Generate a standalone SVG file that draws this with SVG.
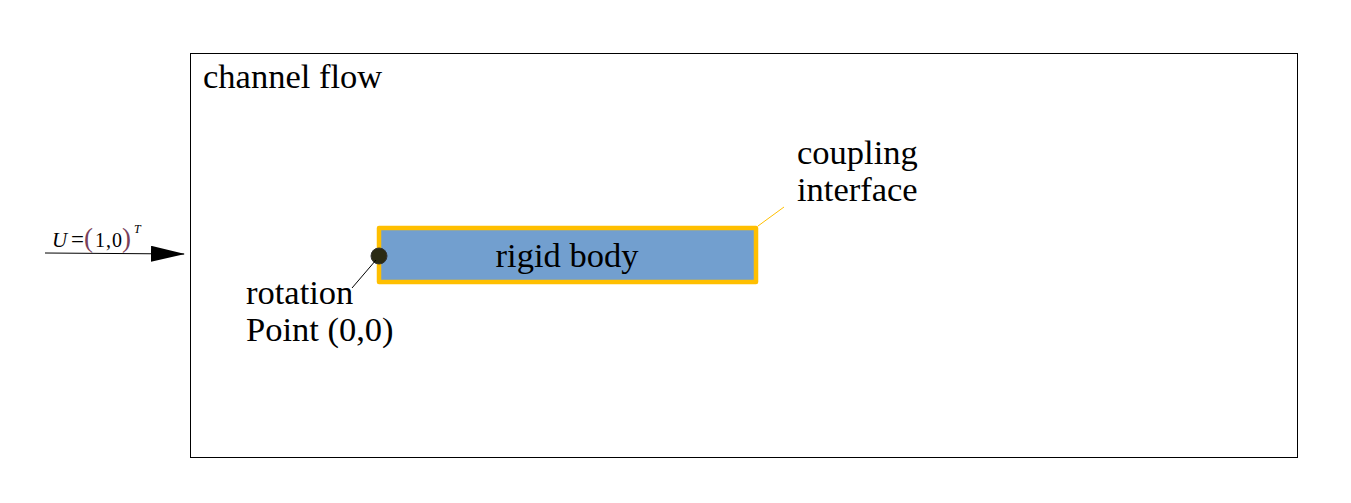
<svg xmlns="http://www.w3.org/2000/svg" width="1351" height="503" viewBox="0 0 1351 503">
<style>
text{font-family:"Liberation Serif","DejaVu Serif",serif;fill:#000}
.lbl{font-size:34.5px}
.par{fill:#7a3f5a;font-size:27px}
</style>
<defs>
<marker id="arr" markerWidth="34" markerHeight="16" refX="33" refY="8" markerUnits="userSpaceOnUse" orient="auto">
<path d="M0,0 L34,8 L0,16 z" fill="#000"/>
</marker>
</defs>
<rect width="1351" height="503" fill="#fff"/>
<g id="channel">
<rect x="190.5" y="53.5" width="1107" height="404" fill="none" stroke="#000" stroke-width="1"/>
<text class="lbl" x="203" y="88">channel flow</text>
</g>
<g id="rigid-body">
<rect x="379" y="228" width="377" height="54" fill="#729fcf" stroke="#ffbf00" stroke-width="4.5" stroke-linejoin="round"/>
<text class="lbl" x="567" y="267" text-anchor="middle">rigid body</text>
</g>
<g id="coupling-interface">
<text class="lbl" x="797" y="164">coupling</text>
<text class="lbl" x="797" y="201">interface</text>
</g>
<g id="rotation-point">
<circle cx="379" cy="256" r="8" fill="#2a2a14" stroke="#333" stroke-width="1"/>
<text class="lbl" x="246" y="304">rotation</text>
<text class="lbl" x="246" y="341">Point (0,0)</text>
</g>
<g id="inflow">
<text y="247" font-size="20"><tspan x="52" font-size="21" font-style="italic">U</tspan><tspan x="71" font-size="23">=</tspan><tspan x="84" class="par">(</tspan><tspan x="95">1</tspan><tspan x="106">,</tspan><tspan x="112">0</tspan><tspan x="122" class="par">)</tspan><tspan x="134" y="233" font-size="12" font-style="italic">T</tspan></text>
</g>
<g id="connectors">
<line x1="45" y1="253" x2="184" y2="254" stroke="#000" stroke-width="1" marker-end="url(#arr)"/>
<line x1="376" y1="260" x2="352" y2="288" stroke="#000" stroke-width="1"/>
<line x1="758" y1="226" x2="784" y2="207" stroke="#ffbf00" stroke-width="1"/>
</g>
</svg>
